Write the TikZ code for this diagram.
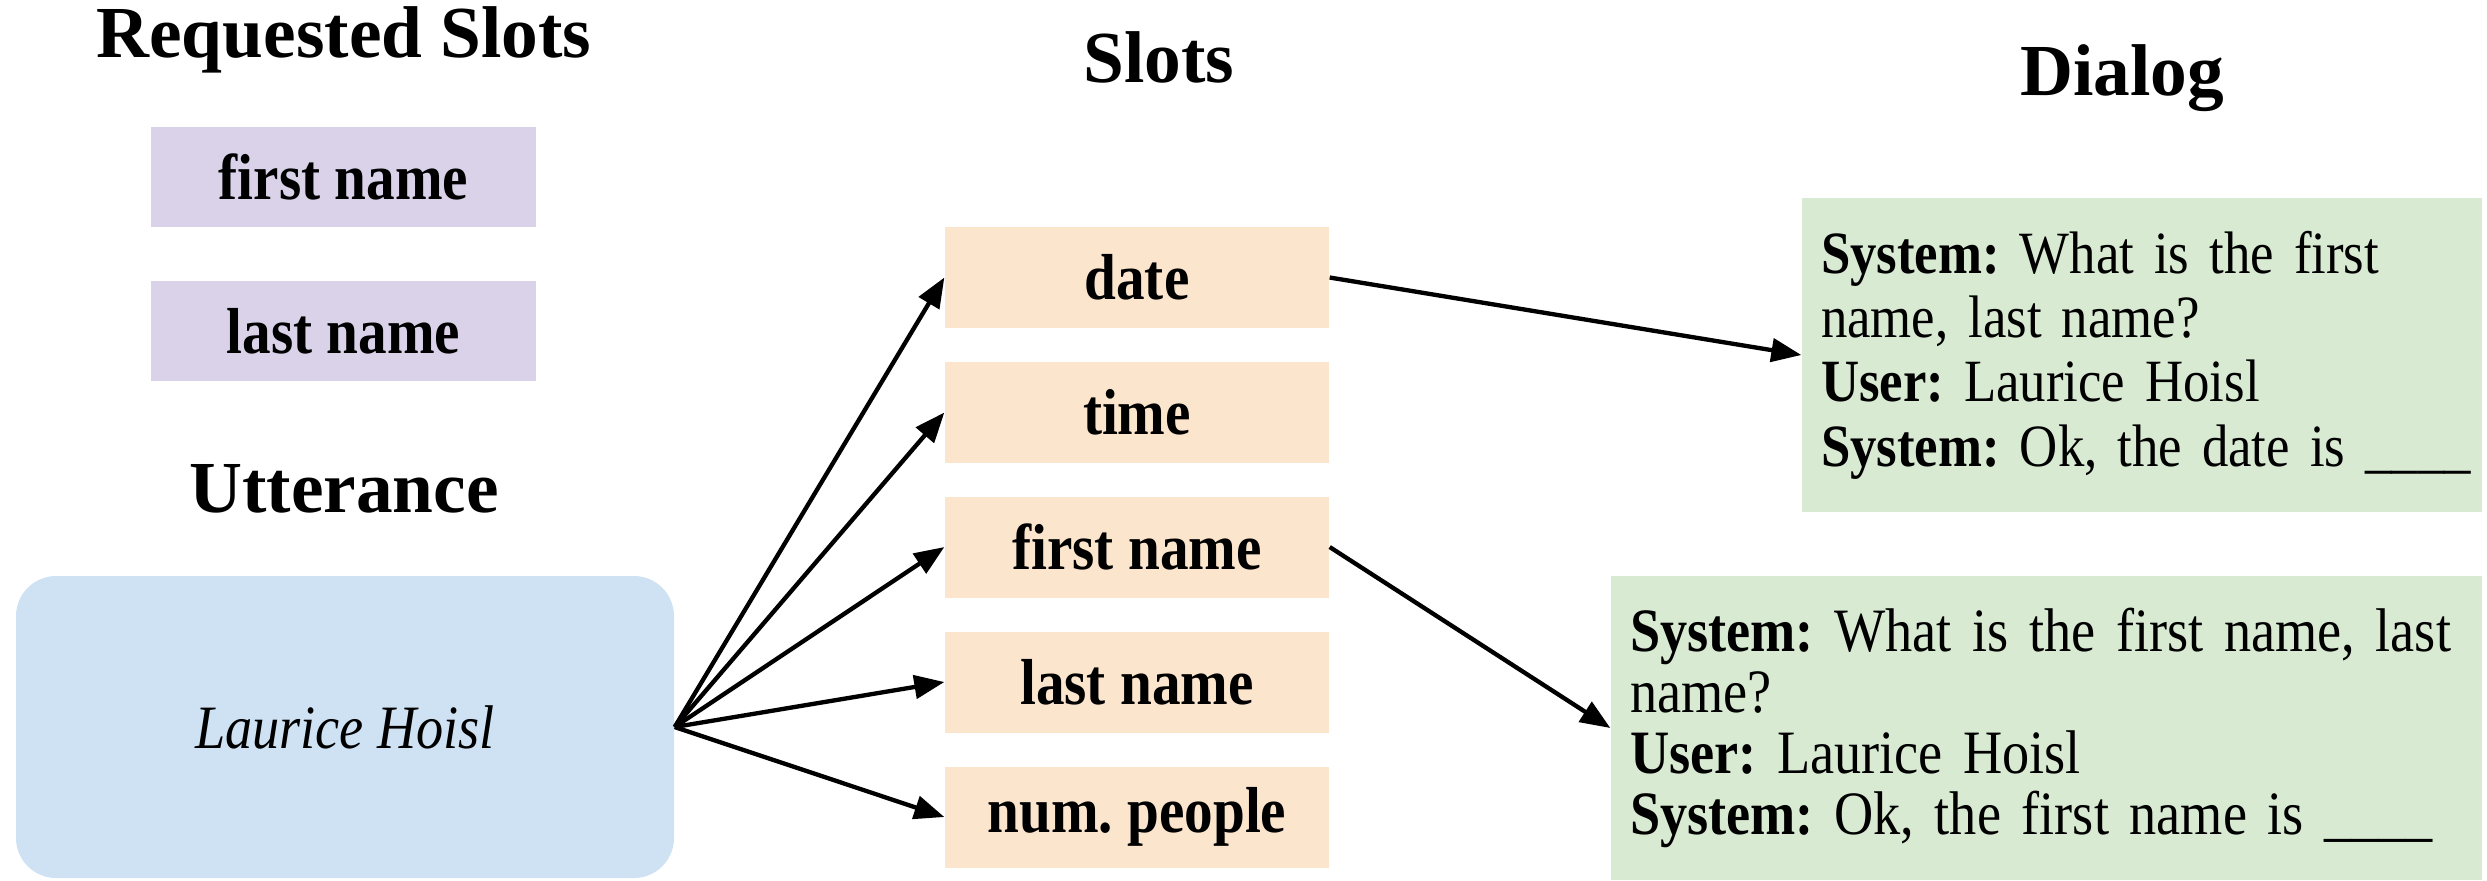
\documentclass[tikz,border=0pt]{standalone}
\usepackage{fontspec}
\setmainfont{Liberation Serif}
\newfontfamily\condfont{Liberation Serif}[FakeStretch=0.88]
\usetikzlibrary{arrows.meta}
\definecolor{lav}{HTML}{D9D2E9}
\definecolor{peach}{HTML}{FCE5CD}
\definecolor{skyb}{HTML}{CFE2F3}
\definecolor{mint}{HTML}{D9EAD3}
\frenchspacing
\newcommand{\dialfont}[2]{\condfont\fontsize{#1}{#2}\selectfont}
\tikzset{
  head/.style={font=\bfseries\fontsize{22}{26}\selectfont, anchor=base, inner sep=0pt},
  reqbox/.style={fill=lav, minimum width=115.5pt, minimum height=30pt, inner sep=0pt, font=\condfont\bfseries\fontsize{19.5}{22}\selectfont},
  slotbox/.style={fill=peach, minimum width=115.2pt, minimum height=30.3pt, inner sep=0pt, font=\condfont\bfseries\fontsize{19.5}{22}\selectfont},
  uttbox/.style={fill=skyb, rounded corners=12pt, minimum width=197.4pt, minimum height=90.6pt, inner sep=0pt, font=\condfont\itshape\fontsize{18.5}{20}\selectfont},
  dialbox/.style={fill=mint, align=left, inner xsep=5.7pt, inner ysep=0pt},
  arr/.style={-{Triangle[length=9pt,width=7pt]}, line width=1.3pt}
}
\begin{document}
\begin{tikzpicture}[x=0.3pt,y=-0.3pt]
\useasboundingbox (0,0) rectangle (2487,880);
% headings
\node[head] (hreq) at (344,57) {Requested Slots};
\node[head] (hslots) at (1159,82) {Slots};
\node[head] (hdial) at (2122,95) {Dialog};
\node[head] (hutt) at (344,512) {Utterance};
% requested slots
\node[reqbox] (r1) at (343.5,177) {first name};
\node[reqbox] (r2) at (343.5,331) {last name};
% utterance
\node[uttbox] (utt) at (345,727) {Laurice Hoisl};
% slots
\node[slotbox] (sdate) at (1137,277.5) {date};
\node[slotbox] (stime) at (1137,412.5) {time};
\node[slotbox] (sfirst) at (1137,547) {first name};
\node[slotbox] (slast) at (1137,682) {last name};
\node[slotbox] (snum) at (1137,817) {num. people};
% dialogs
\node[dialbox, font=\dialfont{18}{19.3}, text width=192.6pt, minimum height=94.2pt] (d1) at (2142,355)
  {\mbox{\textbf{System:} What is the first}\\ \mbox{name, last name?}\\ \mbox{\textbf{User:} Laurice Hoisl}\\ \mbox{\textbf{System:} Ok, the date is \_\_\_\_}};
\node[dialbox, font=\dialfont{18.5}{18.3}, text width=249.9pt, minimum height=91.2pt] (d2) at (2046.5,728)
  {\mbox{\textbf{System:} What is the first name, last}\\ \mbox{name?}\\ \mbox{\textbf{User:} Laurice Hoisl}\\ \mbox{\textbf{System:} Ok, the first name is \_\_\_\_}};
% arrows
\foreach \s in {sdate,stime,sfirst,slast,snum}
  \draw[arr] (utt.east) -- (\s.west);
\draw[arr] (sdate.east) -- (d1.west);
\draw[arr] (sfirst.east) -- (d2.west);
\end{tikzpicture}
\end{document}
